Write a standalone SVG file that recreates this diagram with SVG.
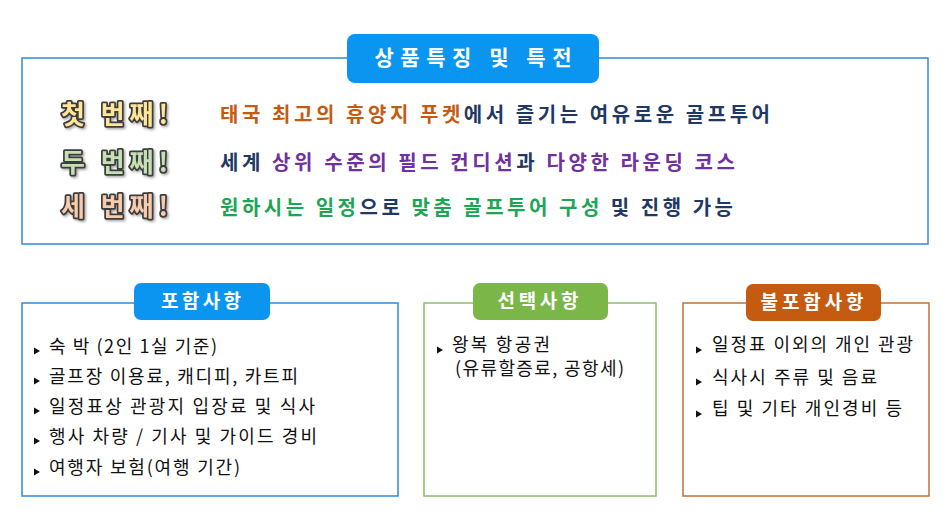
<svg xmlns="http://www.w3.org/2000/svg" width="950" height="529" viewBox="0 0 950 529">
<defs>
<style>
.box{fill:#fff;stroke-width:1.5}
.pill-t{font-family:"Noto Sans CJK KR","Noto Sans",sans-serif;font-weight:bold;fill:#fff;text-anchor:middle}
.main{font-family:"Noto Sans CJK KR","Noto Sans",sans-serif;font-weight:bold;font-size:20px}
.lab{font-family:"Noto Sans CJK KR","Noto Sans",sans-serif;font-weight:bold;font-size:26px;stroke:#3c3c3c;stroke-width:3.5;paint-order:stroke;stroke-linejoin:round}
.item{font-family:"Noto Sans CJK KR","Noto Sans",sans-serif;font-size:18px;fill:#111}
.or{fill:#c55a11}.nv{fill:#1f3864}.pu{fill:#7030a0}.gr{fill:#1aa652}
</style>
<filter id="sh" x="-10%" y="-20%" width="130%" height="150%">
<feDropShadow dx="1.5" dy="1.5" stdDeviation="0.8" flood-color="#000" flood-opacity="0.35"/>
</filter>
<path id="tri" d="M0,-3.5 L6,0 L0,3.5 Z" fill="#111"/>
</defs>

<g id="features">
<rect class="box" x="22" y="58" width="906" height="186" stroke="#2e8ad8"/>
<rect x="347" y="34" width="252" height="49" rx="8" fill="#0a96f0"/>
<text class="pill-t" x="473" y="65" font-size="21" textLength="197" lengthAdjust="spacing">상품특징  및  특전</text>
<text class="lab" x="61" y="124" fill="#ffe699" filter="url(#sh)" textLength="107" lengthAdjust="spacing">첫 번째!</text>
<text class="lab" x="61" y="172" fill="#c5e0b4" filter="url(#sh)" textLength="107" lengthAdjust="spacing">두 번째!</text>
<text class="lab" x="61" y="216" fill="#f8cbad" filter="url(#sh)" textLength="107" lengthAdjust="spacing">세 번째!</text>
<text class="main" x="220" y="122" textLength="550" lengthAdjust="spacing"><tspan class="or">태국 최고의 휴양지 푸켓</tspan><tspan class="nv">에서 즐기는 여유로운 골프투어</tspan></text>
<text class="main" x="220" y="170" textLength="515" lengthAdjust="spacing"><tspan class="nv">세계 </tspan><tspan class="pu">상위 수준의 필드 컨디션</tspan><tspan class="nv">과 </tspan><tspan class="pu">다양한 라운딩 코스</tspan></text>
<text class="main" x="220" y="215" textLength="513" lengthAdjust="spacing"><tspan class="gr">원하시는 일정</tspan><tspan class="nv">으로 </tspan><tspan class="gr">맞춤 골프투어 구성</tspan><tspan class="nv"> 및 진행 가능</tspan></text>
</g>

<g id="included">
<rect class="box" x="22" y="303" width="376" height="193" stroke="#2e8ad8"/>
<rect x="134" y="283" width="136" height="37" rx="7" fill="#0a96f0"/>
<text class="pill-t" x="201" y="308" font-size="19" textLength="80" lengthAdjust="spacing">포함사항</text>
<use href="#tri" x="34" y="351"/>
<use href="#tri" x="34" y="381"/>
<use href="#tri" x="34" y="411"/>
<use href="#tri" x="34" y="441"/>
<use href="#tri" x="34" y="472"/>
<text class="item" x="49" y="353" textLength="168" lengthAdjust="spacing">숙 박 (2인 1실 기준)</text>
<text class="item" x="49" y="383" textLength="249" lengthAdjust="spacing">골프장 이용료, 캐디피, 카트피</text>
<text class="item" x="49" y="413" textLength="266" lengthAdjust="spacing">일정표상 관광지 입장료 및 식사</text>
<text class="item" x="49" y="443" textLength="268" lengthAdjust="spacing">행사 차량 / 기사 및 가이드 경비</text>
<text class="item" x="49" y="474" textLength="191" lengthAdjust="spacing">여행자 보험(여행 기간)</text>
</g>

<g id="optional">
<rect class="box" x="424" y="303" width="232" height="193" stroke="#8cbf6a"/>
<rect x="473" y="283" width="135" height="37" rx="7" fill="#7ab648"/>
<text class="pill-t" x="538" y="308" font-size="19" textLength="81" lengthAdjust="spacing">선택사항</text>
<use href="#tri" x="437" y="350"/>
<text class="item" x="452" y="351" textLength="98" lengthAdjust="spacing">왕복 항공권</text>
<text class="item" x="455" y="375" textLength="169" lengthAdjust="spacing">(유류할증료, 공항세)</text>
</g>

<g id="excluded">
<rect class="box" x="683" y="303" width="246" height="193" stroke="#c0703a"/>
<rect x="746" y="284" width="135" height="37" rx="7" fill="#c55a11"/>
<text class="pill-t" x="812" y="309" font-size="19" textLength="103" lengthAdjust="spacing">불포함사항</text>
<use href="#tri" x="696" y="350"/>
<use href="#tri" x="696" y="382"/>
<use href="#tri" x="696" y="414"/>
<text class="item" x="712" y="351" textLength="201" lengthAdjust="spacing">일정표 이외의 개인 관광</text>
<text class="item" x="712" y="384" textLength="165" lengthAdjust="spacing">식사시 주류 및 음료</text>
<text class="item" x="712" y="415" textLength="190" lengthAdjust="spacing">팁 및 기타 개인경비 등</text>
</g>

<g id="connectors"></g>
</svg>
